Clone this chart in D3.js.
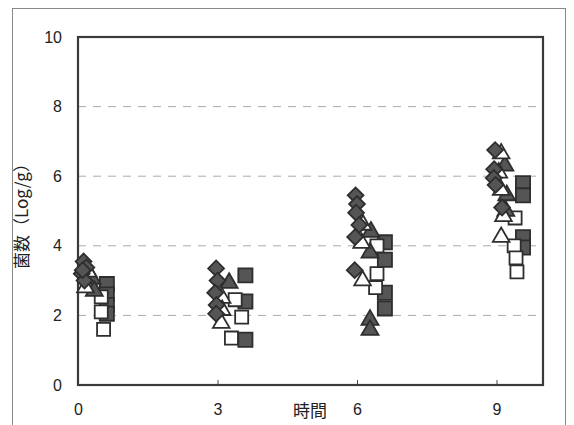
<!DOCTYPE html>
<html>
<head>
<meta charset="utf-8">
<script src="https://cdn.jsdelivr.net/npm/d3@7"></script>
<style>
  body { margin: 0; background: #fff; }
  text { font-family: "Liberation Sans", Arial, sans-serif; fill: #222; }
</style>
</head>
<body>
<svg id="grafico"></svg>
<script>
const WIDTH = 574,
    HEIGHT = 425;

const margin = { top: 37, bottom: 40, left: 78, right: 31 };

// valores: [tiempo, log ufc/g]
const diamantes = [
    [0.12, 3.55], [0.18, 3.38], [0.08, 3.2], [0.14, 3.0], [0.1, 3.3],
    [2.97, 3.35], [3.0, 3.0], [2.95, 2.65], [2.98, 2.3], [2.97, 2.05],
    [5.97, 5.45], [6.0, 5.2], [5.98, 4.95], [6.05, 4.6], [5.96, 4.25], [5.95, 3.3],
    [8.97, 6.75], [8.95, 6.2], [8.94, 5.95], [8.98, 5.75], [9.12, 5.1]
];
const triangulosAbiertos = [
    [0.22, 3.25], [0.16, 2.8],
    [3.1, 2.5], [3.1, 2.15], [3.08, 1.78],
    [6.13, 4.6], [6.1, 4.08], [6.12, 3.0],
    [9.1, 6.65], [9.05, 6.1], [9.1, 5.6], [9.15, 4.85], [9.1, 4.25]
];
const triangulosRellenos = [
    [0.3, 3.05], [0.35, 2.7],
    [3.25, 2.93],
    [6.28, 3.8], [6.3, 4.4], [6.28, 1.87], [6.28, 1.58],
    [9.22, 5.45], [9.2, 5.0], [9.18, 6.3]
];
const cuadradosAbiertos = [
    [0.5, 2.53], [0.5, 2.1], [0.55, 1.6],
    [3.38, 2.45], [3.52, 1.95], [3.3, 1.35],
    [6.43, 4.0], [6.43, 3.2], [6.4, 2.8],
    [9.4, 4.8], [9.38, 4.0], [9.42, 3.65], [9.44, 3.25]
];
const cuadradosRellenos = [
    [0.62, 2.9], [0.62, 2.6], [0.62, 2.3], [0.62, 2.05],
    [3.6, 3.15], [3.6, 2.4], [3.6, 1.3],
    [6.6, 4.1], [6.6, 3.6], [6.6, 2.65], [6.6, 2.2],
    [9.57, 5.8], [9.57, 5.45], [9.57, 4.25], [9.57, 3.95]
];

const ticksX = [0, 3, 6, 9];
const ticksY = [0, 2, 4, 6, 8, 10];
const tituloX = "時間";
const tituloY = "菌数（Log/g）";

const svg = d3.select("#grafico")
    .attr("width", WIDTH)
    .attr("height", HEIGHT);

// marco exterior
svg.append("rect")
    .attr("x", 12.5).attr("y", 8.5)
    .attr("width", 553).attr("height", 430)
    .attr("fill", "none").attr("stroke", "#888").attr("stroke-width", 1);

const escalaX = d3.scaleLinear()
    .domain([0, 10])
    .range([margin.left, WIDTH - margin.right]);

const escalaY = d3.scaleLinear()
    .domain([0, 10])
    .range([HEIGHT - margin.bottom, margin.top]);

// lineas de grilla
svg.append("g")
    .selectAll("line")
    .data(ticksY.filter(d => d > 0 && d < 10))
    .join("line")
    .attr("x1", escalaX(0)).attr("x2", escalaX(10))
    .attr("y1", d => escalaY(d)).attr("y2", d => escalaY(d))
    .attr("stroke", "#aaa")
    .attr("stroke-dasharray", "8,7");

// eje x
const ejeX = d3.axisBottom(escalaX)
    .tickValues(ticksX)
    .tickSize(-5)
    .tickPadding(19)
    .tickFormat(d3.format("d"));

const contenedorEjeX = svg.append("g")
    .attr("transform", `translate(0 ${escalaY(0)})`)
    .call(ejeX);
contenedorEjeX.select(".domain").remove();
contenedorEjeX.selectAll("line").attr("stroke", "#444");
contenedorEjeX.selectAll("text")
    .attr("font-size", 16)
    .style("font-family", "'Liberation Sans', Arial, sans-serif")
    .attr("fill", "#222");

// eje y
const ejeY = d3.axisLeft(escalaY)
    .tickValues(ticksY)
    .tickSize(0)
    .tickPadding(16);

const contenedorEjeY = svg.append("g")
    .attr("transform", `translate(${escalaX(0)} 0)`)
    .call(ejeY);
contenedorEjeY.select(".domain").remove();
contenedorEjeY.selectAll("text")
    .attr("font-size", 16)
    .style("font-family", "'Liberation Sans', Arial, sans-serif")
    .attr("fill", "#222");

// recuadro del area de trazado
svg.append("rect")
    .attr("x", escalaX(0)).attr("y", escalaY(10))
    .attr("width", escalaX(10) - escalaX(0))
    .attr("height", escalaY(0) - escalaY(10))
    .attr("fill", "none").attr("stroke", "#3a3a3a").attr("stroke-width", 2.2);

// titulos
svg.append("text")
    .attr("x", 310).attr("y", 417)
    .attr("text-anchor", "middle")
    .attr("font-size", 17)
    .style("font-family", "'Noto Sans CJK JP', sans-serif")
    .text(tituloX);

svg.append("text")
    .attr("transform", `translate(28 212) rotate(-90)`)
    .attr("text-anchor", "middle")
    .attr("font-size", 17)
    .style("font-family", "'Noto Sans CJK JP', sans-serif")
    .text(tituloY);

// marcadores
const contenedorPuntos = svg.append("g");

const series = [
    { datos: cuadradosRellenos, forma: d3.symbolSquare, tam: 200, relleno: "#555", giro: 0 },
    { datos: cuadradosAbiertos, forma: d3.symbolSquare, tam: 170, relleno: "#fff", giro: 0 },
    { datos: triangulosRellenos, forma: d3.symbolTriangle, tam: 125, relleno: "#555", giro: 0 },
    { datos: triangulosAbiertos, forma: d3.symbolTriangle, tam: 120, relleno: "#fff", giro: 0 },
    { datos: diamantes, forma: d3.symbolSquare, tam: 125, relleno: "#555", giro: 45 }
];

series.forEach(s => {
    contenedorPuntos.append("g")
        .selectAll("path")
        .data(s.datos)
        .join("path")
        .attr("d", d3.symbol().type(s.forma).size(s.tam))
        .attr("transform", d => `translate(${escalaX(d[0])} ${escalaY(d[1])}) rotate(${s.giro})`)
        .attr("fill", s.relleno)
        .attr("stroke", "#2e2e2e")
        .attr("stroke-width", 1.8);
});
</script>
</body>
</html>
